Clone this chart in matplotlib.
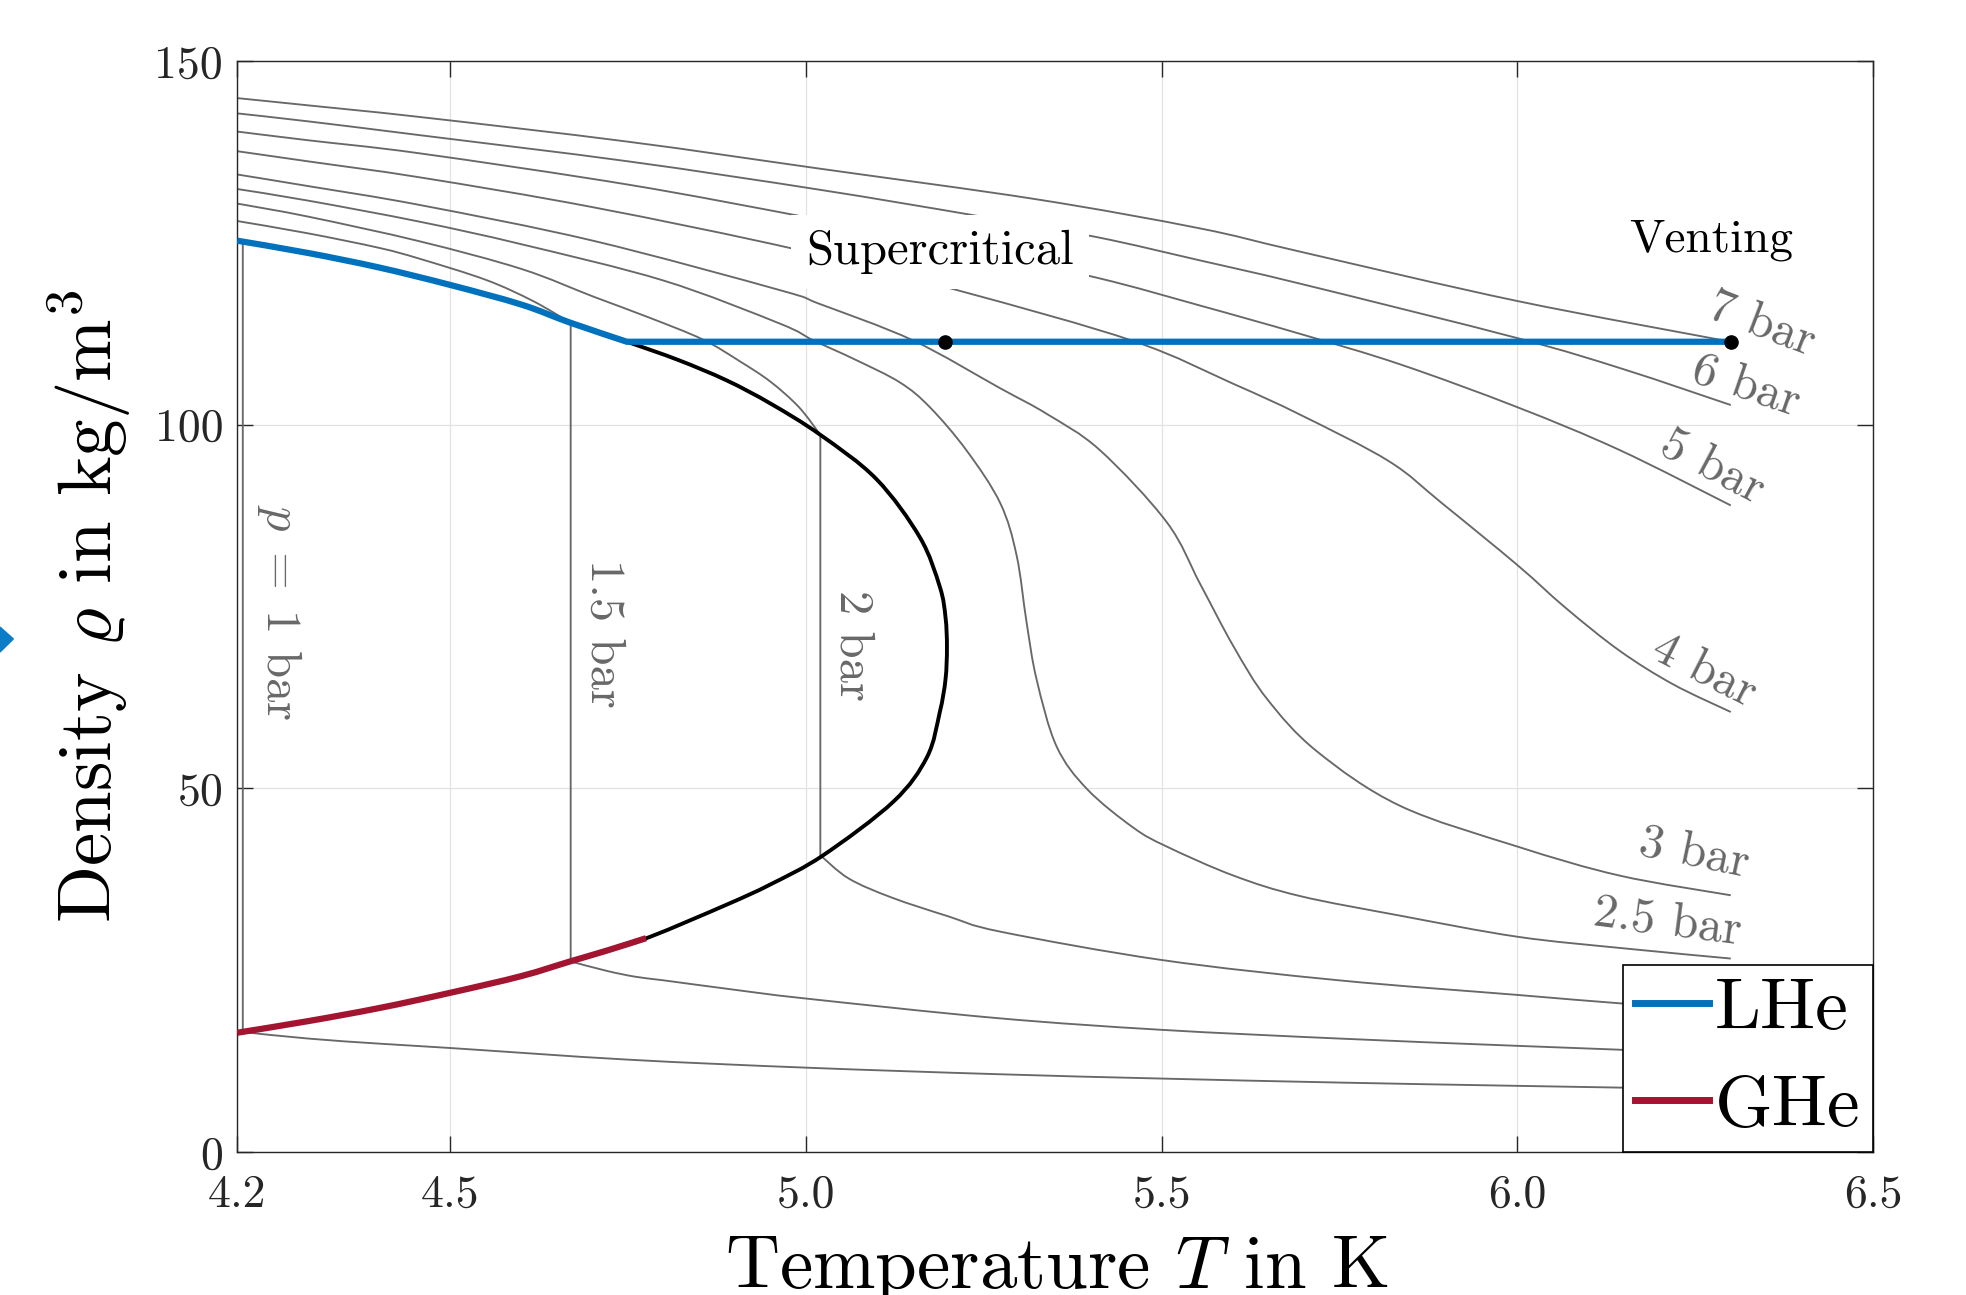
import matplotlib.pyplot as plt
from matplotlib.lines import Line2D
from matplotlib.patches import PathPatch, Polygon
from matplotlib.path import Path

plt.rcParams['font.family'] = 'cmr10'
plt.rcParams['mathtext.fontset'] = 'cm'
plt.rcParams['axes.formatter.use_mathtext'] = True
plt.rcParams['axes.unicode_minus'] = False

# saturation dome of helium (liquid and vapour branch), T in K, rho in kg/m^3
t_sat_liq = [4.2, 4.3, 4.4, 4.5, 4.6, 4.669, 4.748, 4.82, 4.888, 4.95, 5.02, 5.099, 5.16, 5.188, 5.196, 5.198]
rho_sat_liq = [125.3, 123.6, 121.6, 119.2, 116.5, 114.0, 111.4, 108.9, 106.1, 102.9, 98.6, 92.5, 84.5, 77.7, 73.5, 69.4]
t_sat_vap = [4.2, 4.3, 4.4, 4.5, 4.6, 4.668, 4.72, 4.781, 4.888, 4.95, 5.024, 5.123, 5.17, 5.188, 5.196, 5.198]
rho_sat_vap = [16.4, 18.0, 19.8, 21.9, 24.2, 26.2, 27.7, 29.6, 34.0, 36.8, 40.8, 48.2, 54.3, 60.5, 65.0, 69.4]

# tank states
t_lhe = [4.2, 4.3, 4.4, 4.5, 4.6, 4.669, 4.748, 6.3]
rho_lhe = [125.3, 123.6, 121.6, 119.2, 116.5, 114.0, 111.4, 111.4]
t_ghe = [4.2, 4.3, 4.4, 4.5, 4.6, 4.668, 4.72, 4.775]
rho_ghe = [16.4, 18.0, 19.8, 21.9, 24.2, 26.2, 27.7, 29.4]

# marked points (supercritical transition, venting)
t_points = [5.195, 6.3]
rho_points = [111.4, 111.4]

# isobars
t_1bar = [4.208, 4.208, 4.3, 4.4, 4.5, 4.75, 5.0, 5.27, 5.5, 5.75, 6.0, 6.3]
rho_1bar = [125.1, 16.5, 15.6, 14.9, 14.3, 12.7, 11.6, 10.7, 10.1, 9.55, 9.1, 8.6]
t_15bar = [4.2, 4.3, 4.4, 4.457, 4.55, 4.616, 4.669, 4.669, 4.72, 4.76, 4.8, 4.9, 5.0, 5.27, 5.5, 5.75, 6.0, 6.3]
rho_15bar = [128.0, 126.3, 124.3, 122.8, 119.9, 117.0, 114.0, 26.2, 24.9, 24.1, 23.6, 22.3, 21.1, 18.4, 16.8, 15.6, 14.6, 13.5]
t_2bar = [4.2, 4.3, 4.457, 4.6, 4.701, 4.78, 4.855, 4.907, 4.95, 4.99, 5.02, 5.02, 5.06, 5.12, 5.2, 5.273, 5.5, 5.75, 6.0, 6.15, 6.3]
rho_2bar = [130.4, 128.6, 125.2, 121.4, 117.6, 114.7, 111.7, 108.7, 105.9, 102.4, 98.6, 40.8, 37.6, 35.0, 32.4, 30.3, 26.4, 23.6, 21.6, 20.4, 19.4]
t_25bar = [4.2, 4.3, 4.457, 4.6, 4.8, 4.963, 5.01, 5.07, 5.132, 5.174, 5.226, 5.273, 5.296, 5.31, 5.324,
           5.352, 5.395, 5.46, 5.507, 5.601, 5.694, 5.835, 6.0, 6.15, 6.3]
rho_25bar = [132.4, 130.8, 127.9, 124.8, 119.8, 113.9, 111.6, 108.9, 105.8, 102.4, 96.4, 89.2, 82.0, 72.8, 65.0,
             55.8, 49.9, 44.6, 42.0, 38.0, 35.2, 32.5, 29.6, 28.0, 26.6]
t_3bar = [4.2, 4.3, 4.457, 4.7, 4.963, 5.019, 5.15, 5.273, 5.338, 5.413, 5.507, 5.554, 5.601, 5.648, 5.718,
          5.835, 6.0, 6.144, 6.3]
rho_3bar = [134.4, 132.8, 130.2, 125.3, 118.5, 116.6, 111.6, 105.0, 101.5, 96.5, 86.6, 78.1, 69.5, 62.3, 55.1,
            47.6, 42.0, 38.0, 35.3]
t_4bar = [4.2, 4.3, 4.457, 4.7, 4.986, 5.216, 5.46, 5.601, 5.694, 5.819, 5.894, 6.0, 6.068, 6.144, 6.219, 6.3]
rho_4bar = [137.6, 136.2, 134.0, 129.9, 124.1, 118.4, 111.5, 105.6, 101.4, 95.0, 89.2, 80.7, 74.8, 68.9, 64.3, 60.5]
t_5bar = [4.2, 4.3, 4.457, 4.75, 4.996, 5.2, 5.409, 5.553, 5.694, 5.835, 6.0, 6.144, 6.3]
rho_5bar = [140.3, 139.1, 137.3, 133.0, 128.6, 124.7, 120.2, 116.4, 112.5, 108.3, 102.4, 96.5, 88.9]
t_6bar = [4.2, 4.3, 4.457, 4.75, 5.019, 5.235, 5.408, 5.553, 5.694, 6.0, 6.15, 6.3]
rho_6bar = [142.8, 141.7, 139.8, 136.2, 132.3, 128.8, 125.8, 122.6, 119.4, 111.9, 107.6, 102.7]
t_7bar = [4.2, 4.3, 4.457, 4.75, 5.019, 5.323, 5.553, 5.694, 6.0, 6.3]
rho_7bar = [144.9, 143.9, 142.3, 138.9, 135.2, 131.0, 127.0, 123.8, 117.0, 111.4]

# isobar labels: text, position, rotation
iso_labels = ['7 bar', '6 bar', '5 bar', '4 bar', '3 bar', '2.5 bar', r'$p\;=\;1$ bar', '1.5 bar', '2 bar']
iso_label_t = [6.343, 6.321, 6.274, 6.262, 6.248, 6.211, 4.259, 4.715, 5.065]
iso_label_rho = [113.8, 105.3, 94.2, 66.1, 41.0, 31.6, 74.3, 71.3, 69.7]
iso_label_rot = [-21, -19, -28, -27, -12, -7.5, 270, 270, 270]

gray = '#686868'
axis_col = '#262626'


def smooth_path(t, rho):
    # smooth curve through the points, kept straight where T or rho stays constant
    pts = list(zip(t, rho))
    pieces = []
    cur = [pts[0]]
    for i in range(1, len(pts)):
        if t[i] == t[i - 1] or rho[i] == rho[i - 1]:
            if len(cur) > 1:
                pieces.append(cur)
            pieces.append([pts[i - 1], pts[i]])
            cur = [pts[i]]
        else:
            cur.append(pts[i])
    if len(cur) > 1:
        pieces.append(cur)

    verts, codes = [pts[0]], [Path.MOVETO]
    for p in pieces:
        n = len(p)
        if n == 2:
            verts.append(p[1])
            codes.append(Path.LINETO)
            continue
        for i in range(n - 1):
            p0, p1, p2, p3 = p[max(i - 1, 0)], p[i], p[i + 1], p[min(i + 2, n - 1)]
            c1 = (p1[0] + (p2[0] - p0[0]) / 6, p1[1] + (p2[1] - p0[1]) / 6)
            c2 = (p2[0] - (p3[0] - p1[0]) / 6, p2[1] - (p3[1] - p1[1]) / 6)
            verts += [c1, c2, p2]
            codes += [Path.CURVE4] * 3
    return Path(verts, codes)


def draw_curve(ax, t, rho, **kw):
    ax.add_patch(PathPatch(smooth_path(t, rho), fill=False, capstyle='butt', joinstyle='round', **kw))


fig = plt.figure(figsize=(19.66, 12.95), dpi=100)
ax = fig.add_axes([0.1206, 0.1104, 0.8321, 0.8425])

isobars = [(t_1bar, rho_1bar), (t_15bar, rho_15bar), (t_2bar, rho_2bar), (t_25bar, rho_25bar),
           (t_3bar, rho_3bar), (t_4bar, rho_4bar), (t_5bar, rho_5bar), (t_6bar, rho_6bar),
           (t_7bar, rho_7bar)]
for t, rho in isobars:
    draw_curve(ax, t, rho, edgecolor=gray, lw=1.35, zorder=2)

# dome: liquid branch up to the critical point, then back along the vapour branch
draw_curve(ax, t_sat_liq + t_sat_vap[-2::-1], rho_sat_liq + rho_sat_vap[-2::-1],
           edgecolor='black', lw=2.8, zorder=3)

blue = '#0072BD'
red = '#A2142F'
draw_curve(ax, t_lhe, rho_lhe, edgecolor=blue, lw=4.5, zorder=4)
draw_curve(ax, t_ghe, rho_ghe, edgecolor=red, lw=4.5, zorder=4)
ax.plot(t_points, rho_points, 'o', color='black', ms=9.5, zorder=6)

for txt, x, y, r in zip(iso_labels, iso_label_t, iso_label_rho, iso_label_rot):
    ax.text(x, y, txt, fontsize=35, color='#686868', rotation=r, ha='center', va='center',
            rotation_mode='anchor', zorder=5)

ax.text(5.188, 123.7, 'Supercritical', fontsize=35, ha='center', va='center', zorder=5,
        bbox=dict(facecolor='white', edgecolor='none', pad=11))
ax.text(6.272, 125.4, 'Venting', fontsize=34, ha='center', va='center', zorder=5)

ax.set_xlim(4.2, 6.5)
ax.set_ylim(0, 150)
ax.set_xticks([4.2, 4.5, 5.0, 5.5, 6.0, 6.5])
ax.set_xticklabels(['4.2', '4.5', '5.0', '5.5', '6.0', '6.5'])
ax.set_yticks([0, 50, 100, 150])
ax.set_yticklabels(['0', '50', '100', '150'])
ax.grid(True, color='#e2e2e2', lw=0.9)
ax.set_axisbelow(True)
ax.tick_params(direction='in', length=11.5, width=1.0, top=True, right=True, labelsize=33,
               color=axis_col, labelcolor=axis_col)
ax.tick_params(axis='x', pad=16)
ax.tick_params(axis='y', pad=10)
for s in ax.spines.values():
    s.set_color(axis_col)
    s.set_linewidth(1.0)

ax.set_xlabel(r'Temperature $T$ in K', fontsize=54)
ax.set_ylabel(r'Density $\varrho$ in $\mathrm{kg}/\mathrm{m}^3$', fontsize=54)
ax.xaxis.set_label_coords(0.501, -0.0752)
ax.yaxis.set_label_coords(-0.0636, 0.5)

handles = [Line2D([], [], color=blue, lw=5), Line2D([], [], color=red, lw=5)]
leg = ax.legend(handles, ['LHe', 'GHe'], loc='lower right', bbox_to_anchor=(1, 0), borderaxespad=0,
                fontsize=53, fancybox=False, framealpha=1, edgecolor='black', borderpad=0.17,
                handlelength=1.0, handletextpad=0.08, labelspacing=0.42)
leg.get_frame().set_linewidth(1.2)
leg.set_zorder(10)

# small marker cut off at the left edge of the picture
fig.add_artist(Polygon([[0, 0.5158], [0.0068, 0.5066], [0, 0.4965]], closed=True,
                       transform=fig.transFigure, color='#0b7dc8'))

fig.savefig('out.png', dpi=100)
